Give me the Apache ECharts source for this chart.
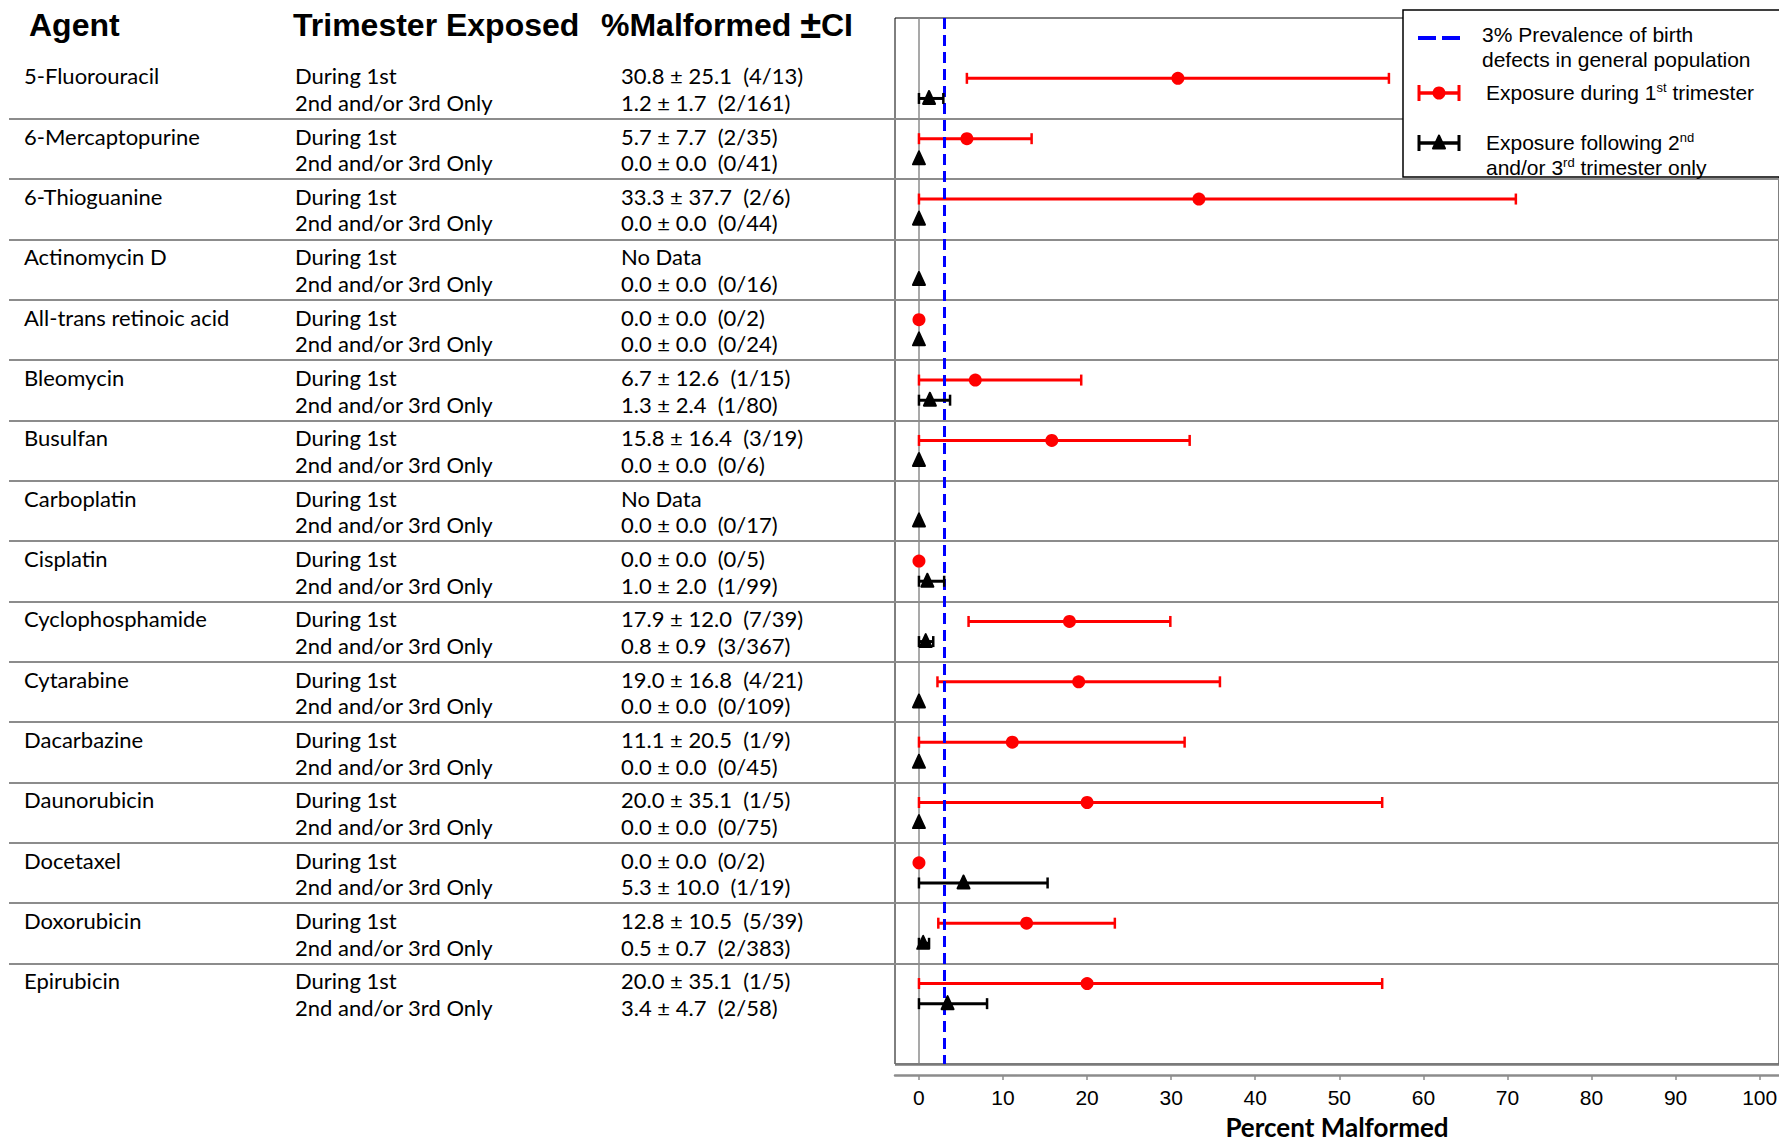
<!DOCTYPE html>
<html>
<head>
<meta charset="utf-8">
<title>Malformations by agent and trimester</title>
<script src="https://cdn.jsdelivr.net/npm/echarts@6/dist/echarts.min.js"></script>
<style>
  html, body { margin: 0; padding: 0; background: #fff; }
  #chart { width: 1779px; height: 1145px; }
</style>
</head>
<body>
<div id="chart"></div>
<script>
const agents = [
  '5-Fluorouracil', '6-Mercaptopurine', '6-Thioguanine', 'Actinomycin D',
  'All-trans retinoic acid', 'Bleomycin', 'Busulfan', 'Carboplatin',
  'Cisplatin', 'Cyclophosphamide', 'Cytarabine', 'Dacarbazine',
  'Daunorubicin', 'Docetaxel', 'Doxorubicin', 'Epirubicin'
]
// exposure during the 1st trimester (null = no data)
const firstMean = [30.8, 5.7, 33.3, null, 0.0, 6.7, 15.8, null, 0.0, 17.9, 19.0, 11.1, 20.0, 0.0, 12.8, 20.0]
const firstCI = [25.1, 7.7, 37.7, null, 0.0, 12.6, 16.4, null, 0.0, 12.0, 16.8, 20.5, 35.1, 0.0, 10.5, 35.1]
const firstCount = ['4/13', '2/35', '2/6', null, '0/2', '1/15', '3/19', null, '0/5', '7/39', '4/21', '1/9', '1/5', '0/2', '5/39', '1/5']
// exposure following 2nd and/or 3rd trimester only
const laterMean = [1.2, 0.0, 0.0, 0.0, 0.0, 1.3, 0.0, 0.0, 1.0, 0.8, 0.0, 0.0, 0.0, 5.3, 0.5, 3.4]
const laterCI = [1.7, 0.0, 0.0, 0.0, 0.0, 2.4, 0.0, 0.0, 2.0, 0.9, 0.0, 0.0, 0.0, 10.0, 0.7, 4.7]
const laterCount = ['2/161', '0/41', '0/44', '0/16', '0/24', '1/80', '0/6', '0/17', '1/99', '3/367', '0/109', '0/45', '0/75', '1/19', '2/383', '2/58']
const trimesterLabels = ['During 1st', '2nd and/or 3rd Only']
const xTicks = [0, 10, 20, 30, 40, 50, 60, 70, 80, 90, 100]
const prevalence = 3

// every agent takes 3 units on the y scale: 1st row, later row, separator
const rowFirst = agents.map((a, i) => i * 3 + 1)
const rowLater = agents.map((a, i) => i * 3 + 2)
const separators = agents.slice(1).map((a, i) => i * 3 + 3)
// the table's two text lines sit a little further apart than the markers
const textFirst = agents.map((a, i) => i * 3 + 0.87)
const textLater = agents.map((a, i) => i * 3 + 2.19)
const textBoth = textFirst.concat(textLater).sort((a, b) => a - b)

const BODY_FONT = 'Lato'
const ARIAL = '"Liberation Sans", Arial, sans-serif'

function rowOf(v) { return Math.floor(v / 3) }
function isFirst(v) { return v - rowOf(v) * 3 < 1.5 }

function statText(mean, ci, count) {
  if (mean == null) return 'No Data'
  return mean.toFixed(1) + ' ± ' + ci.toFixed(1) + '  (' + count + ')'
}

function tableAxis(values, formatter, margin) {
  return {
    type: 'value', gridIndex: 0, position: 'left', inverse: true, min: -2, max: 50,
    axisLine: { show: false }, axisTick: { show: false }, splitLine: { show: false },
    axisLabel: {
      customValues: values, formatter: formatter, margin: margin, align: 'left',
      showMinLabel: true, showMaxLabel: true, hideOverlap: false,
      color: '#000', fontFamily: BODY_FONT, fontSize: 22, lineHeight: 22
    }
  }
}

function barData(mean, ci, rows) {
  const out = []
  mean.forEach((m, i) => {
    if (m == null) return
    out.push([Math.max(0, m - ci[i]), m + ci[i], m, rows[i]])
  })
  return out
}

const circle = (p, c) => ({ type: 'circle', z: 100, shape: { cx: p[0], cy: p[1], r: 6.5 }, style: { fill: c } })
const triangle = (p, c) => ({
  type: 'polygon', z: 100,
  shape: { points: [[p[0], p[1] - 7.5], [p[0] - 6, p[1] + 5.5], [p[0] + 6, p[1] + 5.5]] },
  style: { fill: c, stroke: c, lineWidth: 2, lineJoin: 'round' }
})

function errorBar(color, marker) {
  return function (params, api) {
    const y = api.value(3)
    const lo = api.coord([api.value(0), y])
    const hi = api.coord([api.value(1), y])
    const pt = api.coord([api.value(2), y])
    const children = []
    if (api.value(1) > api.value(0)) {
      children.push({ type: 'line', shape: { x1: lo[0], y1: lo[1], x2: hi[0], y2: hi[1] }, style: { stroke: color, lineWidth: 3 } })
      ;[lo, hi].forEach(p => {
        children.push({ type: 'line', shape: { x1: p[0], y1: p[1] - 5.5, x2: p[0], y2: p[1] + 5.5 }, style: { stroke: color, lineWidth: 2.5 } })
      })
    }
    children.push(marker(pt, color))
    return { type: 'group', children: children }
  }
}

const header = (text, x) => ({
  type: 'text', x: x, y: 25,
  style: {
    text: text, fill: '#000', font: 'bold 32px ' + ARIAL, verticalAlign: 'middle',
    rich: { pm: { font: 'bold 38px ' + ARIAL } }
  }
})

const legendText = (text, x, y) => {
  const style = { text: text, fill: '#000', font: '21px ' + ARIAL, verticalAlign: 'middle' }
  if (text.indexOf('{s|') >= 0) {
    style.lineHeight = 22
    style.rich = { s: { fontSize: 13, fontFamily: ARIAL, lineHeight: 13, verticalAlign: 'top' } }
  }
  return { type: 'text', x: x, y: y, z: 101, style: style }
}

const legendBar = (y, color, marker) => [
  { type: 'line', z: 101, shape: { x1: 1418, y1: y, x2: 1460, y2: y }, style: { stroke: color, lineWidth: 3.5 } },
  { type: 'line', z: 101, shape: { x1: 1419, y1: y - 8, x2: 1419, y2: y + 8 }, style: { stroke: color, lineWidth: 3 } },
  { type: 'line', z: 101, shape: { x1: 1459, y1: y - 8, x2: 1459, y2: y + 8 }, style: { stroke: color, lineWidth: 3 } },
  Object.assign(marker([1439, y], color), { z: 102 })
]

const chart = echarts.init(document.getElementById('chart'), null, { renderer: 'svg' })

const option = {
  animation: false,
  backgroundColor: '#fff',
  grid: [
    { left: 9, top: 18, width: 886, bottom: 81, outerBoundsMode: 'none', containLabel: false },
    { left: 895, top: 18, right: 0, bottom: 81, show: true, borderColor: '#000', borderWidth: 1, outerBoundsMode: 'none', containLabel: false }
  ],
  xAxis: [
    { type: 'value', gridIndex: 0, min: 0, max: 1, show: false },
    {
      type: 'value', gridIndex: 1, min: -2.85, max: 102.3, offset: 11,
      axisLine: { onZero: false, lineStyle: { color: '#8c8c8c', width: 2.5 } },
      axisTick: { customValues: xTicks, length: 5, lineStyle: { color: '#8c8c8c', width: 1.5 } },
      axisLabel: { customValues: xTicks, color: '#000', fontFamily: ARIAL, fontSize: 21, margin: 12 },
      splitLine: { show: false },
      name: 'Percent Malformed', nameLocation: 'middle', nameGap: 39,
      nameTextStyle: { color: '#000', fontFamily: BODY_FONT, fontWeight: 'bold', fontSize: 26, lineHeight: 26 }
    }
  ],
  yAxis: [
    tableAxis(textFirst, v => agents[rowOf(v)], -15),
    tableAxis(textBoth, v => trimesterLabels[isFirst(v) ? 0 : 1], -286),
    tableAxis(textBoth, v => {
      const i = rowOf(v)
      return isFirst(v)
        ? statText(firstMean[i], firstCI[i], firstCount[i])
        : statText(laterMean[i], laterCI[i], laterCount[i])
    }, -612),
    {
      type: 'value', gridIndex: 1, inverse: true, min: -2, max: 50,
      axisLine: { show: false }, axisTick: { show: false }, axisLabel: { show: false }, splitLine: { show: false }
    }
  ],
  series: [
    {
      name: 'table rules', type: 'line', xAxisIndex: 0, yAxisIndex: 0, data: [], z: 1,
      markLine: {
        silent: true, symbol: 'none', label: { show: false }, z: 1,
        lineStyle: { color: '#8c8c8c', width: 2, type: 'solid' },
        data: separators.map(v => ({ yAxis: v }))
      }
    },
    {
      name: 'plot rules', type: 'line', xAxisIndex: 1, yAxisIndex: 3, data: [], z: 1,
      markLine: {
        silent: true, symbol: 'none', label: { show: false }, z: 1,
        lineStyle: { color: '#8c8c8c', width: 2, type: 'solid' },
        data: separators.map(v => ({ yAxis: v })).concat([
          { xAxis: 0, lineStyle: { color: '#8c8c8c', width: 1.5 } },
          // bottom edge of the plot frame is a heavier grey rule
          { yAxis: 50, lineStyle: { color: '#7a7a7a', width: 2.5 } }
        ])
      }
    },
    {
      name: 'Exposure during 1st trimester', type: 'custom', xAxisIndex: 1, yAxisIndex: 3, z: 2, clip: false,
      renderItem: errorBar('#ff0000', circle),
      encode: { x: [0, 1, 2], y: 3 },
      data: barData(firstMean, firstCI, rowFirst)
    },
    {
      name: '3% Prevalence', type: 'line', xAxisIndex: 1, yAxisIndex: 3, data: [], z: 3,
      markLine: {
        silent: true, symbol: 'none', label: { show: false }, z: 3,
        lineStyle: { color: '#0000ff', width: 3, type: [11, 6] },
        data: [{ xAxis: prevalence }]
      }
    },
    {
      name: 'Exposure following 2nd and/or 3rd trimester only', type: 'custom', xAxisIndex: 1, yAxisIndex: 3, z: 4, clip: false,
      renderItem: errorBar('#000000', triangle),
      encode: { x: [0, 1, 2], y: 3 },
      data: barData(laterMean, laterCI, rowLater)
    }
  ],
  graphic: [
    header('Agent', 29),
    header('Trimester Exposed', 293),
    header('%Malformed {pm|±}CI', 601),
    { type: 'rect', z: 100, shape: { x: 1403, y: 10, width: 420, height: 167 }, style: { fill: '#fff', stroke: '#000', lineWidth: 1.5 } },
    { type: 'line', z: 101, shape: { x1: 1418, y1: 38, x2: 1460, y2: 38 }, style: { stroke: '#0000ff', lineWidth: 4, lineDash: [18, 6] } },
    legendText('3% Prevalence of birth', 1482, 34),
    legendText('defects in general population', 1482, 59),
    legendText('Exposure during 1{s|st} trimester', 1486, 92),
    legendText('Exposure following 2{s|nd}', 1486, 142),
    legendText('and/or 3{s|rd} trimester only', 1486, 167)
  ].concat(legendBar(93, '#ff0000', circle), legendBar(143, '#000000', triangle))
}

chart.setOption(option)
window.addEventListener('resize', () => chart.resize())
</script>
</body>
</html>
